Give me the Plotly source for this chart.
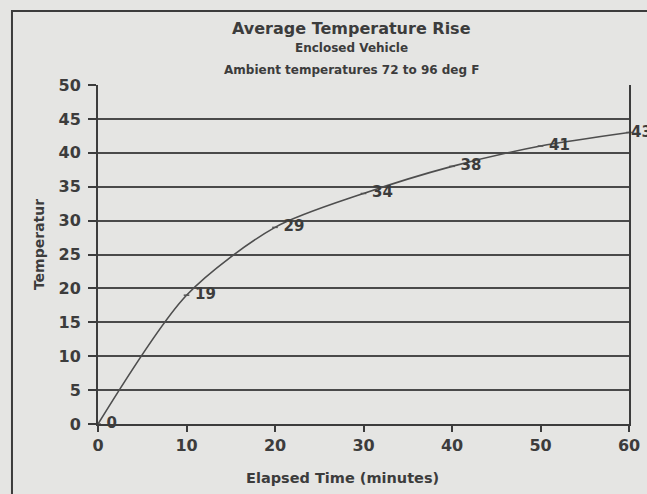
import plotly.graph_objects as go

minutes = [0, 10, 20, 30, 40, 50, 60]
temp_rise = [0, 19, 29, 34, 38, 41, 43]
point_labels = ["0", "19", "29", "34", "38", "41", "43"]
y_ticks = [0, 5, 10, 15, 20, 25, 30, 35, 40, 45, 50]
x_ticks = [0, 10, 20, 30, 40, 50, 60]

INK = "#3c3c3c"
BG = "#e5e5e3"
FONT = "DejaVu Sans"

fig = go.Figure()
fig.add_trace(go.Scatter(
    x=minutes, y=temp_rise, mode="lines+markers",
    line=dict(color="#4e4e4e", width=1.6, shape="spline", smoothing=0.8),
    marker=dict(symbol="line-ew", size=4, color="#555", line=dict(color="#555", width=1.5)),
    cliponaxis=False, showlegend=False, hoverinfo="skip",
))
# labels for all points but the last (the last one hugs the right edge, as in the original)
fig.add_trace(go.Scatter(
    x=minutes[:-1], y=temp_rise[:-1], mode="markers+text",
    text=["<b>%s</b>" % t for t in point_labels[:-1]], textposition="middle right",
    textfont=dict(family=FONT, size=15, color=INK),
    marker=dict(size=12, opacity=0),
    cliponaxis=False, showlegend=False, hoverinfo="skip",
))
fig.add_annotation(text="<b>%s</b>" % point_labels[-1], x=minutes[-1], y=temp_rise[-1],
                   xref="x", yref="y", xanchor="left", yanchor="middle", xshift=0,
                   showarrow=False, font=dict(family=FONT, size=15, color=INK))

fig.update_layout(
    width=647, height=494,
    margin=dict(l=98, r=18, t=85, b=70),
    paper_bgcolor=BG, plot_bgcolor=BG,
    font=dict(family=FONT, color=INK),
    xaxis=dict(range=[0, 60], tickvals=x_ticks, automargin=False,
               ticktext=["<b>%d</b>" % v for v in x_ticks],
               showgrid=False, zeroline=False,
               showline=True, linecolor=INK, linewidth=2, ticks="outside",
               ticklen=6, tickwidth=2, tickcolor=INK,
               tickfont=dict(family=FONT, size=16, color=INK)),
    yaxis=dict(range=[0, 50], tickvals=y_ticks, automargin=False,
               ticktext=["<b>%d</b>" % v for v in y_ticks],
               showgrid=True, gridcolor="#4a4a4a",
               gridwidth=2, zeroline=False, showline=True, linecolor=INK, linewidth=2,
               mirror=True, ticks="outside", ticklen=8, tickwidth=2, tickcolor=INK,
               ticklabelstandoff=4,
               tickfont=dict(family=FONT, size=16, color=INK)),
)

fig.add_annotation(text="<b>Average Temperature Rise</b>", xref="paper", yref="paper",
                   x=0.478, y=1.168, xanchor="center", yanchor="middle", showarrow=False,
                   font=dict(family=FONT, size=16, color=INK))
fig.add_annotation(text="<b>Enclosed Vehicle</b>", xref="paper", yref="paper",
                   x=0.478, y=1.109, xanchor="center", yanchor="middle", showarrow=False,
                   font=dict(family=FONT, size=12, color=INK))
fig.add_annotation(text="<b>Ambient temperatures 72 to 96 deg F</b>", xref="paper", yref="paper",
                   x=0.478, y=1.044, xanchor="center", yanchor="middle", showarrow=False,
                   font=dict(family=FONT, size=12, color=INK))
fig.add_annotation(text="<b>Temperatur</b>", xref="paper", yref="paper",
                   x=-0.111, y=0.528, xanchor="center", yanchor="middle", textangle=-90,
                   showarrow=False, font=dict(family=FONT, size=14, color=INK))
fig.add_annotation(text="<b>Elapsed Time (minutes)</b>", xref="paper", yref="paper",
                   x=0.461, y=-0.159, xanchor="center", yanchor="middle",
                   showarrow=False, font=dict(family=FONT, size=14.5, color=INK))

fig.add_shape(type="rect", xref="paper", yref="paper",
              x0=-0.162, x1=1.25, y0=-0.4, y1=1.218,
              line=dict(color=INK, width=2), layer="below")

fig.write_html("out.html", config={"displayModeBar": False},
               post_script="document.body.style.margin='0';document.body.style.overflow='hidden';")
